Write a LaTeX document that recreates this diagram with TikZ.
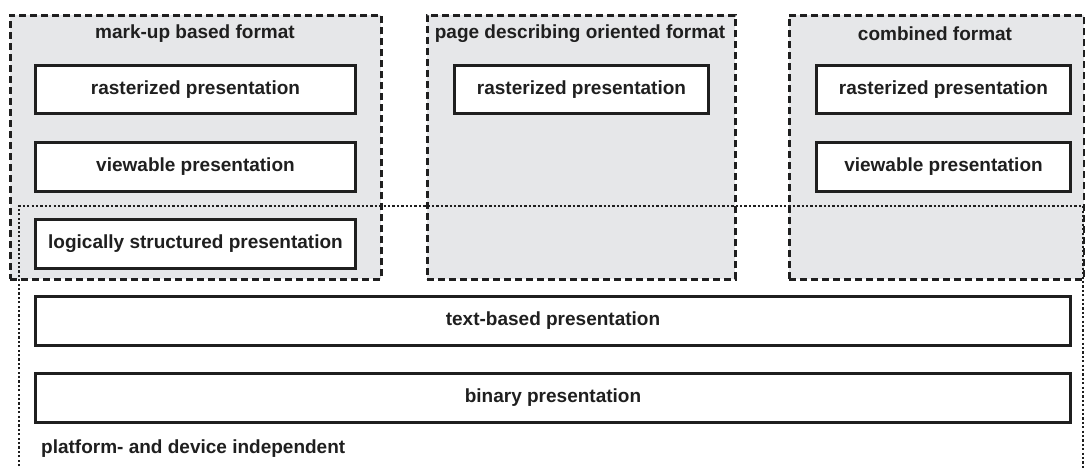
\documentclass[tikz,border=0pt]{standalone}
\usepackage{fontspec}
\setmainfont{Liberation Sans}
\begin{document}
\begin{tikzpicture}[x=1pt,y=-1pt,
  ink/.style={draw=black!88},
  format/.style={ink, fill=grayfill, line width=2.8pt, dash pattern=on 7pt off 4pt, inner sep=0pt, anchor=north west},
  pres/.style={ink, fill=white, line width=3pt, inner sep=0pt, anchor=north west, font=\fontsize{19}{21}\selectfont\bfseries, text=black!88},
  ftitle/.style={font=\fontsize{19}{21}\selectfont\bfseries, text=black!88, inner sep=0pt},
  indep/.style={ink, line width=2.6pt, dash pattern=on 2.3pt off 2.1pt}
]
\definecolor{grayfill}{HTML}{E6E7E9}
\useasboundingbox (0,0) rectangle (1085,468);
% format containers
\node[format, minimum width=371pt, minimum height=264pt] (mf) at (9,14) {};
\node[format, minimum width=308pt, minimum height=264pt] (pf) at (426,14) {};
\node[format, minimum width=295pt, minimum height=264pt] (cf) at (788,14) {};
\node[ftitle] (mft) at (195,34) {mark-up based format};
\node[ftitle] (pft) at (580,34) {page describing oriented format};
\node[ftitle] (cft) at (935,34) {combined format};
% platform independent region (open at the bottom)
\coordinate (ibl) at (19,475);
\coordinate (itl) at (19,206);
\coordinate (itr) at (1083,206);
\coordinate (ibr) at (1083,475);
\begin{scope}
\clip (0,0) rectangle (1085,468);
\draw[indep] (ibl) -- (itl) -- (itr) -- (ibr);
\end{scope}
% presentation boxes
\node[pres, minimum width=320pt, minimum height=48pt] (mr) at (34,64) {rasterized presentation};
\node[pres, minimum width=320pt, minimum height=49pt] (mv) at (34,141) {viewable presentation};
\node[pres, minimum width=320pt, minimum height=49pt] (ml) at (34,218) {logically structured presentation};
\node[pres, minimum width=254pt, minimum height=48pt] (pr) at (453,64) {rasterized presentation};
\node[pres, minimum width=254pt, minimum height=48pt] (cr) at (815,64) {rasterized presentation};
\node[pres, minimum width=254pt, minimum height=49pt] (cv) at (815,141) {viewable presentation};
\node[pres, minimum width=1035pt, minimum height=49pt] (tb) at (34,295) {text-based presentation};
\node[pres, minimum width=1035pt, minimum height=49pt] (bp) at (34,372) {binary presentation};
\node[ftitle, anchor=west] (pdi) at (41,449) {platform- and device independent};
\end{tikzpicture}
\end{document}
